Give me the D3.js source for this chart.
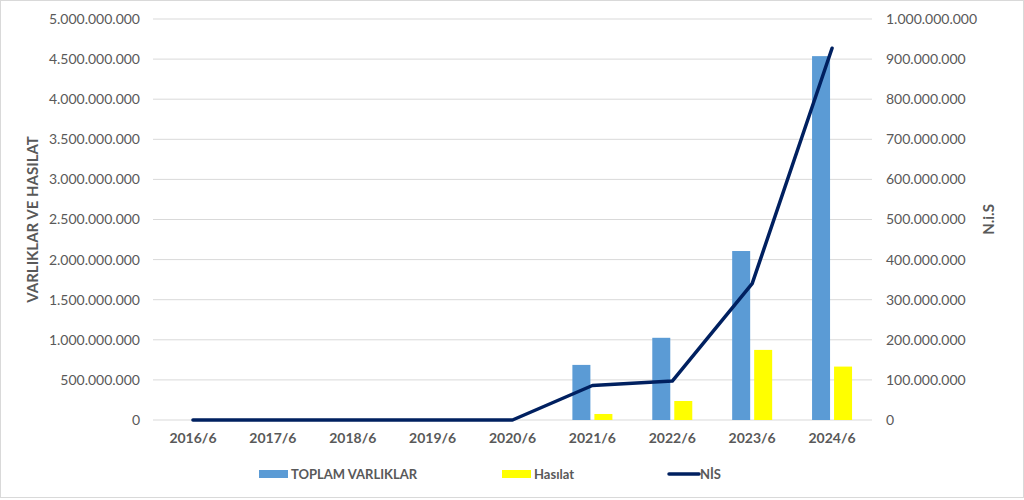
<!DOCTYPE html>
<html>
<head>
<meta charset="utf-8">
<script src="https://cdn.jsdelivr.net/npm/d3@7"></script>
<style>
  body { margin: 0; background: #fff; }
  svg { display: block; font-family: Lato, "Open Sans", sans-serif; }
</style>
</head>
<body>
<svg id="chart"></svg>
<script>
const width = 1024;
const height = 500;

// data
const categories = ["2016/6", "2017/6", "2018/6", "2019/6", "2020/6", "2021/6", "2022/6", "2023/6", "2024/6"];
const toplamVarliklar = [0, 0, 0, 0, 0, 687000000, 1025000000, 2107000000, 4537000000];
const hasilat = [0, 0, 0, 0, 0, 75000000, 237000000, 874000000, 666000000];
const nis = [0, 0, 0, 0, 0, 86000000, 97000000, 340000000, 927000000];
const leftTicks = [0, 5e8, 1e9, 1.5e9, 2e9, 2.5e9, 3e9, 3.5e9, 4e9, 4.5e9, 5e9];
const rightTicks = [0, 1e8, 2e8, 3e8, 4e8, 5e8, 6e8, 7e8, 8e8, 9e8, 1e9];

const margin = { top: 19, right: 152, bottom: 80, left: 153 };
const plotW = width - margin.left - margin.right;
const plotH = height - margin.top - margin.bottom;

const fmt = d => d3.format(",")(d).replace(/,/g, ".");

const svg = d3.select("#chart").attr("width", width).attr("height", height);

// outer chart border
svg.append("rect")
    .attr("x", 0.5).attr("y", 0.5)
    .attr("width", width - 1).attr("height", height - 3)
    .attr("fill", "none").attr("stroke", "#d9d9d9");

const g = svg.append("g").attr("transform", `translate(${margin.left},${margin.top})`);

const x = d3.scaleBand().domain(categories).range([0, plotW]);
const yLeft = d3.scaleLinear().domain([0, 5e9]).range([plotH, 0]);
const yRight = d3.scaleLinear().domain([0, 1e9]).range([plotH, 0]);

// gridlines
g.append("g")
    .selectAll("line")
    .data(leftTicks)
    .join("line")
    .attr("x1", 0).attr("x2", plotW)
    .attr("y1", d => yLeft(d)).attr("y2", d => yLeft(d))
    .attr("stroke", "#d9d9d9").attr("stroke-width", 1);

// left axis
const leftAxis = g.append("g")
    .call(d3.axisLeft(yLeft).tickValues(leftTicks).tickFormat(fmt).tickSize(0).tickPadding(13));
leftAxis.select(".domain").remove();
leftAxis.selectAll("text").attr("fill", "#595959").attr("font-size", 14).attr("font-family", "Lato");

// right axis
const rightAxis = g.append("g")
    .attr("transform", `translate(${plotW},0)`)
    .call(d3.axisRight(yRight).tickValues(rightTicks).tickFormat(fmt).tickSize(0).tickPadding(14));
rightAxis.select(".domain").remove();
rightAxis.selectAll("text").attr("fill", "#595959").attr("font-size", 14).attr("font-family", "Lato");

// x axis
const xAxis = g.append("g")
    .attr("transform", `translate(0,${plotH})`)
    .call(d3.axisBottom(x).tickSize(0).tickPadding(13));
xAxis.select(".domain").remove();
xAxis.selectAll("text").attr("fill", "#595959").attr("font-size", 14).attr("font-weight", "bold").attr("font-family", "Lato");

// bars
const barW = 18;
const gap = 4;
g.append("g")
    .selectAll("rect")
    .data(toplamVarliklar)
    .join("rect")
    .attr("x", (d, i) => x(categories[i]) + x.bandwidth() / 2 - gap / 2 - barW)
    .attr("y", d => yLeft(d))
    .attr("width", barW)
    .attr("height", d => plotH - yLeft(d))
    .attr("fill", "#5b9bd5");

g.append("g")
    .selectAll("rect")
    .data(hasilat)
    .join("rect")
    .attr("x", (d, i) => x(categories[i]) + x.bandwidth() / 2 + gap / 2)
    .attr("y", d => yLeft(d))
    .attr("width", barW)
    .attr("height", d => plotH - yLeft(d))
    .attr("fill", "#ffff00");

// NİS line
const line = d3.line()
    .x((d, i) => x(categories[i]) + x.bandwidth() / 2)
    .y(d => yRight(d));

g.append("path")
    .datum(nis)
    .attr("d", line)
    .attr("fill", "none")
    .attr("stroke", "#002060")
    .attr("stroke-width", 3.5)
    .attr("stroke-linejoin", "round")
    .attr("stroke-linecap", "round");

// axis titles
svg.append("text")
    .attr("transform", `translate(38,${margin.top + plotH / 2}) rotate(-90)`)
    .attr("text-anchor", "middle")
    .attr("fill", "#595959")
    .attr("font-size", 15)
    .attr("font-weight", "bold")
    .text("VARLIKLAR VE HASILAT");

svg.append("text")
    .attr("transform", `translate(994,${margin.top + plotH / 2}) rotate(-90)`)
    .attr("text-anchor", "middle")
    .attr("fill", "#595959")
    .attr("font-size", 15)
    .attr("font-weight", "bold")
    .text("N.i.S");

// legend
const legendItems = [
    { label: "TOPLAM VARLIKLAR", color: "#5b9bd5", type: "rect", x: 259 },
    { label: "Hasılat", color: "#ffff00", type: "rect", x: 502 },
    { label: "NİS", color: "#002060", type: "line", x: 668 }
];
const legend = svg.append("g").attr("transform", "translate(0,474)");
legendItems.forEach(item => {
    if (item.type === "rect") {
        legend.append("rect")
            .attr("x", item.x).attr("y", -4)
            .attr("width", 29).attr("height", 8)
            .attr("fill", item.color);
    } else {
        legend.append("line")
            .attr("x1", item.x + 1).attr("x2", item.x + 31)
            .attr("y1", 0).attr("y2", 0)
            .attr("stroke", item.color).attr("stroke-width", 3.5)
            .attr("stroke-linecap", "round");
    }
    legend.append("text")
        .attr("x", item.x + 32)
        .attr("y", 0)
        .attr("dy", "0.35em")
        .attr("fill", "#595959")
        .attr("font-size", 13)
        .attr("font-weight", "bold")
        .text(item.label);
});
</script>
</body>
</html>
